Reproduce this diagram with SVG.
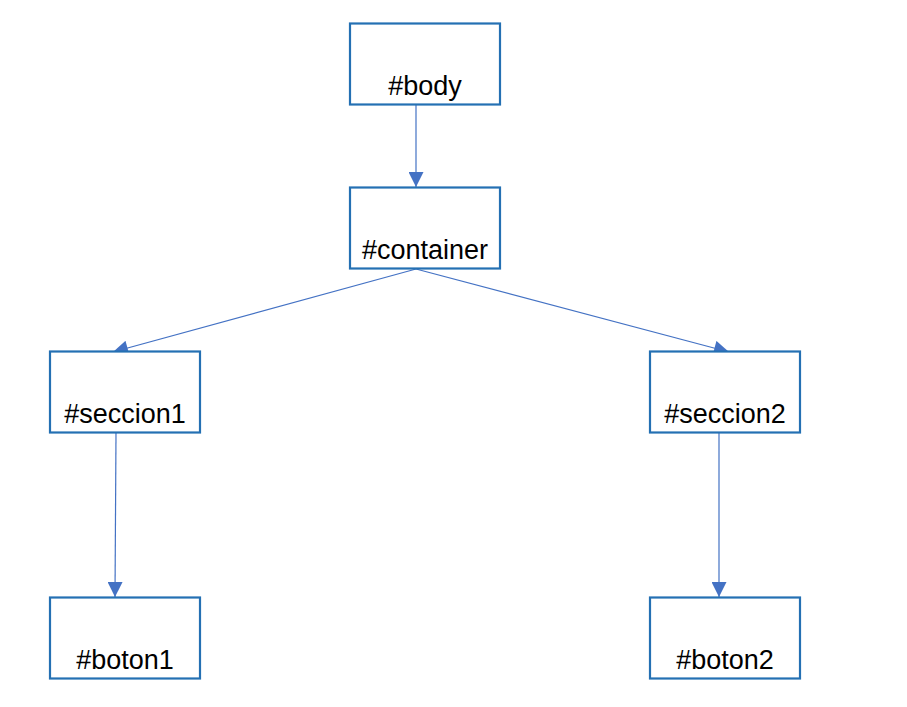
<svg xmlns="http://www.w3.org/2000/svg" width="907" height="707" viewBox="0 0 907 707">
<style>
.box{fill:#fff;stroke:#2470B3;stroke-width:2.2}
.lbl{font-family:"Liberation Sans",Arial,sans-serif;font-size:27px;fill:#000;text-anchor:middle}
.edge{stroke:#4472C4;stroke-width:1.2;fill:none;marker-end:url(#arr)}
</style>
<defs>
<marker id="arr" viewBox="0 0 10 10" refX="10" refY="5" markerUnits="userSpaceOnUse" markerWidth="16" markerHeight="15" orient="auto">
<path d="M0,0 L10,5 L0,10 z" fill="#4472C4"/>
</marker>
</defs>
<rect width="907" height="707" fill="#fff"/>
<g id="connectors">
<line class="edge" x1="416" y1="105" x2="416" y2="187"/>
<line class="edge" x1="416" y1="269" x2="113" y2="352"/>
<line class="edge" x1="416" y1="269" x2="729" y2="352"/>
<line class="edge" x1="116" y1="433" x2="115" y2="597"/>
<line class="edge" x1="719" y1="433" x2="719" y2="597"/>
</g>
<g id="body"><rect class="box" x="350" y="23.5" width="150" height="81"/><text class="lbl" x="425" y="95">#body</text></g>
<g id="container"><rect class="box" x="350" y="187.5" width="150" height="81"/><text class="lbl" x="425" y="259">#container</text></g>
<g id="seccion1"><rect class="box" x="50" y="351.5" width="150" height="81"/><text class="lbl" x="125" y="423">#seccion1</text></g>
<g id="seccion2"><rect class="box" x="650" y="351.5" width="150" height="81"/><text class="lbl" x="725" y="423">#seccion2</text></g>
<g id="boton1"><rect class="box" x="50" y="597.5" width="150" height="81"/><text class="lbl" x="125" y="669">#boton1</text></g>
<g id="boton2"><rect class="box" x="650" y="597.5" width="150" height="81"/><text class="lbl" x="725" y="669">#boton2</text></g>
</svg>
